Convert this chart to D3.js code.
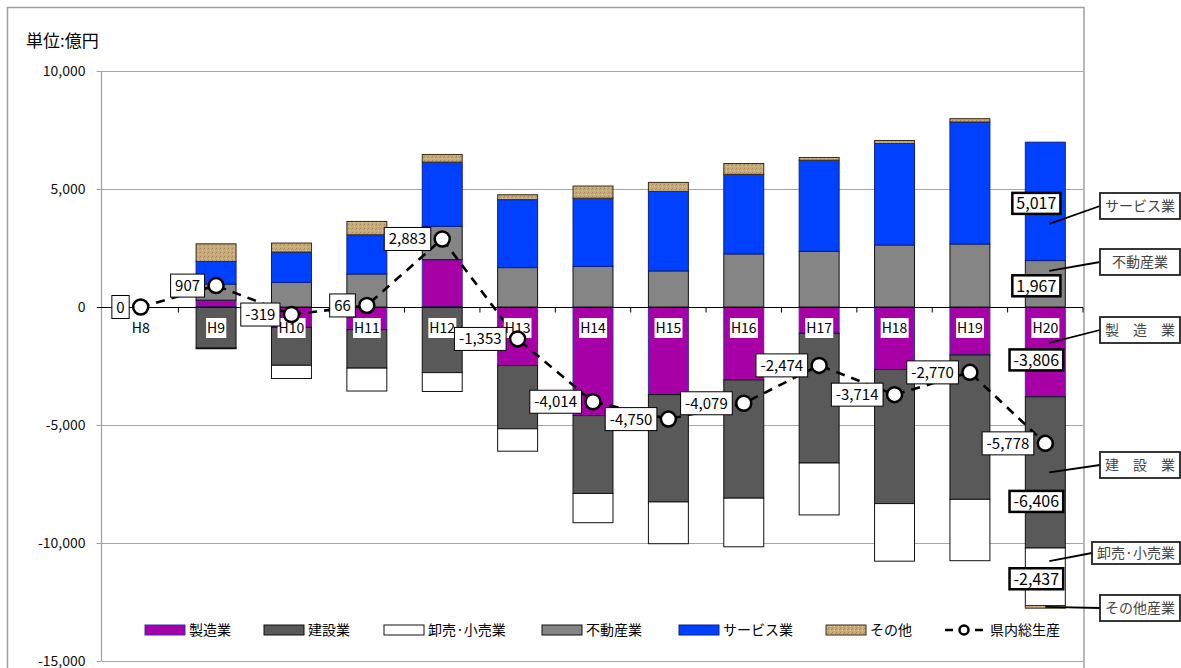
<!DOCTYPE html>
<html>
<head>
<meta charset="utf-8">
<script src="https://cdn.jsdelivr.net/npm/d3@7"></script>
<style>
body { margin: 0; background: #fff; }
svg { font-family: "Noto Sans CJK JP", "Noto Sans", sans-serif; }
</style>
</head>
<body>
<svg id="chart" width="1181" height="668"></svg>
<script>
"use strict";

// 県内総生産の増減（H8比） 単位:億円
const categories = ['H8', 'H9', 'H10', 'H11', 'H12', 'H13', 'H14', 'H15', 'H16', 'H17', 'H18', 'H19', 'H20'];
const manufacturing = [0, 290, -860, -960, 2004, -2480, -4600, -3710, -3090, -1110, -2650, -2030, -3806];
const construction = [0, -1740, -1610, -1630, -2780, -2680, -3300, -4550, -5010, -5500, -5680, -6120, -6406];
const wholesale = [0, -30, -560, -970, -800, -950, -1240, -1770, -2060, -2200, -2440, -2600, -2437];
const realEstate = [0, 680, 1040, 1400, 1415, 1670, 1720, 1530, 2250, 2360, 2630, 2670, 1967];
const services = [0, 960, 1290, 1660, 2720, 2880, 2890, 3370, 3370, 3860, 4300, 5170, 5017];
const others = [0, 747, 381, 566, 324, 207, 516, 380, 461, 116, 126, 140, -113];
const gdpTotal = [0, 907, -319, 66, 2883, -1353, -4014, -4750, -4079, -2474, -3714, -2770, -5778];

const seriesNames = ['製造業', '建設業', '卸売·小売業', '不動産業', 'サービス業', 'その他'];
const seriesValues = [manufacturing, construction, wholesale, realEstate, services, others];
const calloutNames = ['製　造　業', '建　設　業', '卸売·小売業', '不動産業', 'サービス業', 'その他産業'];
const yTicks = [-15000, -10000, -5000, 0, 5000, 10000];

const fills = ['#a600a6', '#595959', '#ffffff', '#858585', '#0041ff', 'url(#tan)'];
const strokes = ['#3030b0', '#111', '#111', '#111', '#0a2090', '#3a2c18'];

const svg = d3.select('#chart');

// plain hyphen for negatives, like the original sheet
const fmt = d3.formatLocale({decimal: '.', thousands: ',', grouping: [3], currency: ['', ''], minus: '-'}).format(',');

// tan texture for その他
const defs = svg.append('defs');
const pat = defs.append('pattern').attr('id', 'tan')
    .attr('width', 4).attr('height', 4).attr('patternUnits', 'userSpaceOnUse');
pat.append('rect').attr('width', 4).attr('height', 4).attr('fill', '#c8a978');
pat.append('rect').attr('x', 0).attr('y', 0).attr('width', 1).attr('height', 1).attr('fill', '#a8895a');
pat.append('rect').attr('x', 2).attr('y', 2).attr('width', 1).attr('height', 1).attr('fill', '#e2cb9e');
pat.append('rect').attr('x', 3).attr('y', 1).attr('width', 1).attr('height', 1).attr('fill', '#b0915f');

const left = 103, right = 1083;

const x = d3.scaleBand().domain(categories).range([left, right])
    .paddingInner(0.47).paddingOuter(0.235);
const y = d3.scaleLinear().domain([-15000, 10000]).range([661, 71]);
const cx = c => x(c) + x.bandwidth() / 2;

// chart border
svg.append('rect')
    .attr('x', 7.5).attr('y', 7.5).attr('width', 1076.5).attr('height', 700)
    .attr('fill', 'none').attr('stroke', '#a0a0a0').attr('stroke-width', 1.5);

// unit label
svg.append('text')
    .attr('x', 26).attr('y', 47)
    .attr('font-size', 17)
    .text('単位:億円');

// gridlines + y axis
svg.append('g').selectAll('line')
    .data(yTicks.filter(v => v !== 0))
    .enter().append('line')
    .attr('x1', left - 1).attr('x2', right)
    .attr('y1', d => y(d) + 0.5).attr('y2', d => y(d) + 0.5)
    .attr('stroke', '#a6a6a6').attr('stroke-width', 1.2);

const yAxis = svg.append('g')
    .attr('transform', `translate(${left - 1.5},0)`)
    .call(d3.axisLeft(y).tickValues(yTicks).tickFormat(fmt).tickSize(5).tickPadding(11));
yAxis.select('.domain').attr('stroke', '#a0a0a0').attr('stroke-width', 1.2).attr('d', `M0,${y(10000)}V${y(-15000)}`);
yAxis.selectAll('.tick line').attr('stroke', '#a0a0a0');
yAxis.selectAll('.tick text')
    .attr('font-size', 14).attr('fill', '#111')
    .attr('font-family', '"Noto Sans CJK JP", sans-serif');

// stacked bars
const rows = categories.map((c, i) => {
    const r = {cat: c};
    seriesNames.forEach((s, k) => { r[s] = seriesValues[k][i]; });
    return r;
});
const stacked = d3.stack().keys(seriesNames).offset(d3.stackOffsetDiverging)(rows);

const barG = svg.append('g');
stacked.forEach((layer, k) => {
    barG.append('g').selectAll('rect')
        .data(layer.filter(d => d[1] !== d[0]))
        .enter().append('rect')
        .attr('x', d => x(d.data.cat))
        .attr('y', d => y(Math.max(d[0], d[1])))
        .attr('width', x.bandwidth())
        .attr('height', d => Math.abs(y(d[0]) - y(d[1])))
        .attr('fill', fills[k])
        .attr('stroke', strokes[k])
        .attr('stroke-width', 1);
});

// zero axis
const zeroY = Math.round(y(0)) + 0.5;
svg.append('line')
    .attr('x1', left - 6).attr('x2', right).attr('y1', zeroY).attr('y2', zeroY)
    .attr('stroke', '#000').attr('stroke-width', 1.2);
svg.append('g').selectAll('line')
    .data(d3.range(1, categories.length + 1))
    .enter().append('line')
    .attr('x1', i => left + i * x.step()).attr('x2', i => left + i * x.step())
    .attr('y1', zeroY).attr('y2', zeroY + 5)
    .attr('stroke', '#000');

// 県内総生産 line
const lineData = categories.map((c, i) => ({cat: c, v: gdpTotal[i]}));
svg.append('path')
    .datum(lineData)
    .attr('d', d3.line().x(d => cx(d.cat)).y(d => y(d.v)))
    .attr('fill', 'none')
    .attr('stroke', '#000')
    .attr('stroke-width', 2.6)
    .attr('stroke-dasharray', '9,7');

// category labels with white backing
const catG = svg.append('g');
categories.forEach(c => {
    const g = catG.append('g');
    const t = g.append('text')
        .attr('x', cx(c)).attr('y', 333)
        .attr('text-anchor', 'middle')
        .attr('font-size', 14)
        .text(c);
    const bb = t.node().getBBox();
    g.insert('rect', 'text')
        .attr('x', bb.x - 1).attr('y', 318).attr('width', bb.width + 2).attr('height', 20)
        .attr('fill', '#fff');
});

svg.append('g').selectAll('circle')
    .data(lineData)
    .enter().append('circle')
    .attr('cx', d => cx(d.cat)).attr('cy', d => y(d.v))
    .attr('r', 7.5)
    .attr('fill', '#fff').attr('stroke', '#000').attr('stroke-width', 2.5);

// line labels
lineData.forEach(d => {
    const g = svg.append('g');
    const t = g.append('text')
        .attr('x', cx(d.cat) - 16).attr('y', y(d.v) + 5.5)
        .attr('text-anchor', 'end')
        .attr('font-size', 15)
        .text(fmt(d.v));
    const bb = t.node().getBBox();
    g.insert('rect', 'text')
        .attr('x', bb.x - 4.5).attr('y', y(d.v) - 11.5)
        .attr('width', bb.width + 9).attr('height', 23)
        .attr('fill', '#fff').attr('stroke', '#000').attr('stroke-width', 1);
});

// H20 value labels (bold boxes) and callouts
const lastCat = categories[categories.length - 1];
const last = categories.length - 1;
const labelShift = {'製造業': 8, '建設業': 29, '卸売·小売業': 2, '不動産業': 2, 'サービス業': 2};
const anchorFrac = [0.40, 0.50, 0.23, 0.22, 0.69, 0.5];
const calloutBox = [
    {x: 1100, y: 317, w: 80, h: 26},
    {x: 1100, y: 452, w: 80, h: 26},
    {x: 1092, y: 542, w: 88, h: 22},
    {x: 1100, y: 249, w: 80, h: 26},
    {x: 1100, y: 193, w: 80, h: 26},
    {x: 1100, y: 595, w: 80, h: 26}
];

stacked.forEach((layer, k) => {
    const d = layer[last];
    const top = y(Math.max(d[0], d[1]));
    const bot = y(Math.min(d[0], d[1]));
    const name = seriesNames[k];
    const bx = calloutBox[k];
    // leader line
    const ax = k === 5 ? cx(lastCat) : cx(lastCat) + 4;
    const ay = top + (bot - top) * anchorFrac[k];
    svg.append('line')
        .attr('x1', ax).attr('y1', ay)
        .attr('x2', bx.x).attr('y2', bx.y + bx.h / 2)
        .attr('stroke', '#000').attr('stroke-width', 1.8);
    svg.append('rect')
        .attr('x', bx.x).attr('y', bx.y).attr('width', bx.w).attr('height', bx.h)
        .attr('fill', '#fff').attr('stroke', '#222').attr('stroke-width', 1.8);
    svg.append('text')
        .attr('x', bx.x + bx.w / 2).attr('y', bx.y + bx.h / 2 + 5)
        .attr('text-anchor', 'middle')
        .attr('font-size', 14)
        .attr('fill', '#444')
        .text(calloutNames[k]);

    if (name in labelShift) {
        const ly = (top + bot) / 2 + labelShift[name];
        const g = svg.append('g');
        const t = g.append('text')
            .attr('x', cx(lastCat) - 9).attr('y', ly + 6)
            .attr('text-anchor', 'middle')
            .attr('font-size', 16)
            .text(fmt(seriesValues[k][last]));
        const bb = t.node().getBBox();
        g.insert('rect', 'text')
            .attr('x', bb.x - 4).attr('y', ly - 10.5)
            .attr('width', bb.width + 8).attr('height', 21)
            .attr('fill', '#fff').attr('stroke', '#000').attr('stroke-width', 2.5);
    }
});

// legend
const legendX = [145, 264, 384, 542, 679, 826];
const legendY = 630;
const lg = svg.append('g');
seriesNames.forEach((s, k) => {
    lg.append('rect')
        .attr('x', legendX[k]).attr('y', legendY - 5).attr('width', 40).attr('height', 10)
        .attr('fill', fills[k]).attr('stroke', strokes[k]).attr('stroke-width', 1);
    lg.append('text')
        .attr('x', legendX[k] + 44).attr('y', legendY + 5)
        .attr('font-size', 14)
        .text(s);
});
lg.append('path')
    .attr('d', `M945,${legendY}h8M975,${legendY}h8`)
    .attr('stroke', '#000').attr('stroke-width', 2.6);
lg.append('circle')
    .attr('cx', 964).attr('cy', legendY).attr('r', 4.5)
    .attr('fill', '#fff').attr('stroke', '#000').attr('stroke-width', 2.5);
lg.append('text')
    .attr('x', 990).attr('y', legendY + 5)
    .attr('font-size', 14)
    .text('県内総生産');
</script>
</body>
</html>
